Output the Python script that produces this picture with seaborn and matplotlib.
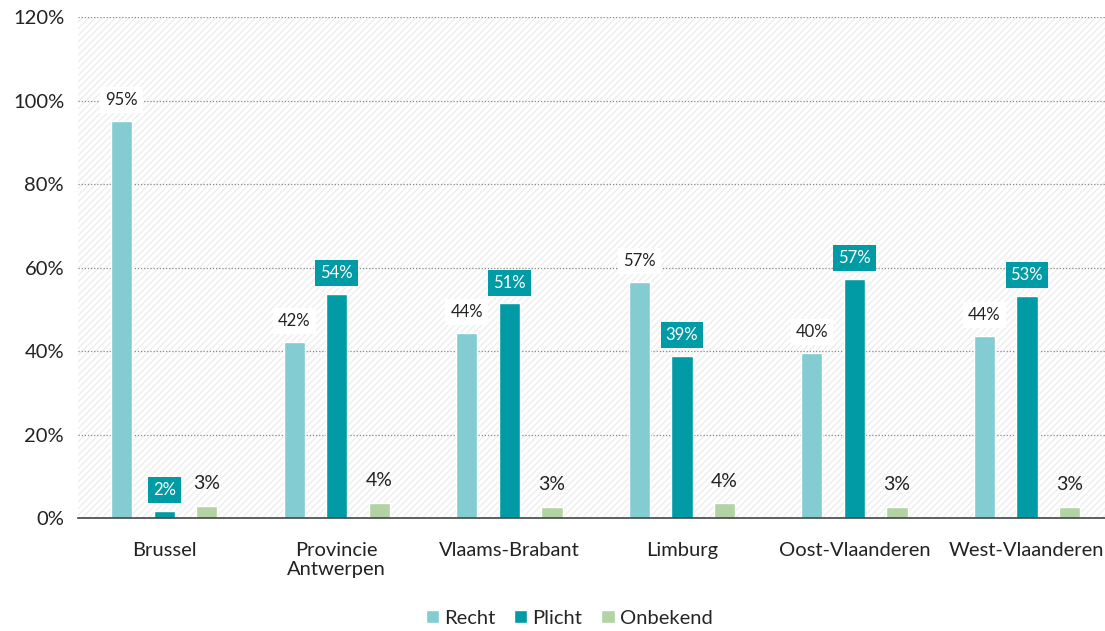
import matplotlib
matplotlib.use("Agg")
import matplotlib.pyplot as plt
import seaborn as sns
import pandas as pd

regions = ["Brussel", "Provincie\nAntwerpen", "Vlaams-Brabant", "Limburg", "Oost-Vlaanderen", "West-Vlaanderen"]
series = ["Recht", "Plicht", "Onbekend"]
recht = [95.1, 42.2, 44.3, 56.6, 39.6, 43.6]
plicht = [1.7, 53.6, 51.4, 38.8, 57.3, 53.3]
onbekend = [2.9, 3.7, 2.7, 3.5, 2.6, 2.6]
colors = ["#82CCD2", "#009BA5", "#B3D3A5"]

df = pd.DataFrame({
    "regio": regions * 3,
    "type": [s for s in series for _ in regions],
    "waarde": recht + plicht + onbekend,
})

sns.set_theme(style="white")
plt.rcParams["font.family"] = ["Lato", "DejaVu Sans"]
plt.rcParams["hatch.linewidth"] = 1.0
plt.rcParams["hatch.color"] = "#EDEDED"

fig = plt.figure(figsize=(11.05, 6.31), dpi=100)
ax = fig.add_axes([0.0706, 0.179, 0.929, 0.794])
ax.patch.set_facecolor("white")
ax.patch.set_hatch("/////")
ax.patch.set_edgecolor("#EDEDED")

sns.barplot(data=df, x="regio", y="waarde", hue="type", palette=colors,
            width=0.74, gap=0.5, ax=ax, saturation=1, legend=True, zorder=3)

ax.set_ylim(0, 120)
ax.set_yticks(range(0, 121, 20))
ax.set_yticklabels([f"{v}%" for v in range(0, 121, 20)], fontsize=14.5, color="#222222")
ax.tick_params(axis="x", labelsize=14.5, colors="#222222", length=0, pad=17)
ax.tick_params(axis="y", length=0, pad=10)
ax.set_xlabel("")
ax.set_ylabel("")
ax.set_xlim(-0.5, 5.45)
ax.yaxis.grid(True, linestyle=(0, (1, 1.5)), color="#888888", linewidth=0.9, zorder=0)
ax.set_axisbelow(True)
for s in ["left", "right", "top"]:
    ax.spines[s].set_visible(False)
ax.spines["bottom"].set_color("#444444")
ax.spines["bottom"].set_linewidth(1.2)
ax.spines["bottom"].set_zorder(4)

for i, cont in enumerate(ax.containers):
    for bar in cont:
        h = bar.get_height()
        x = bar.get_x() + bar.get_width() / 2
        lbl = f"{round(h):.0f}%"
        if i == 0:
            ax.annotate(lbl, (x, h), xytext=(0, 15), textcoords="offset points",
                        ha="center", va="center", fontsize=12, color="#222222", zorder=5,
                        bbox=dict(boxstyle="square,pad=0.3", fc="white", ec="none"))
        elif i == 1:
            ax.annotate(lbl, (x, h), xytext=(0, 15), textcoords="offset points",
                        ha="center", va="center", fontsize=12, color="white", zorder=5,
                        bbox=dict(boxstyle="square,pad=0.3", fc=colors[1], ec="none"))
        else:
            ax.annotate(lbl, (x, h), xytext=(0, 16), textcoords="offset points",
                        ha="center", va="center", fontsize=14, color="#222222", zorder=5)

handles, labels = ax.get_legend_handles_labels()
ax.legend(handles, labels, loc="lower center", bbox_to_anchor=(0.515, -0.022),
          bbox_transform=fig.transFigure, ncol=3, frameon=False, fontsize=14.5,
          handlelength=0.65, handleheight=0.65, handletextpad=0.25, columnspacing=0.95)

fig.savefig("out.png", dpi=100)
